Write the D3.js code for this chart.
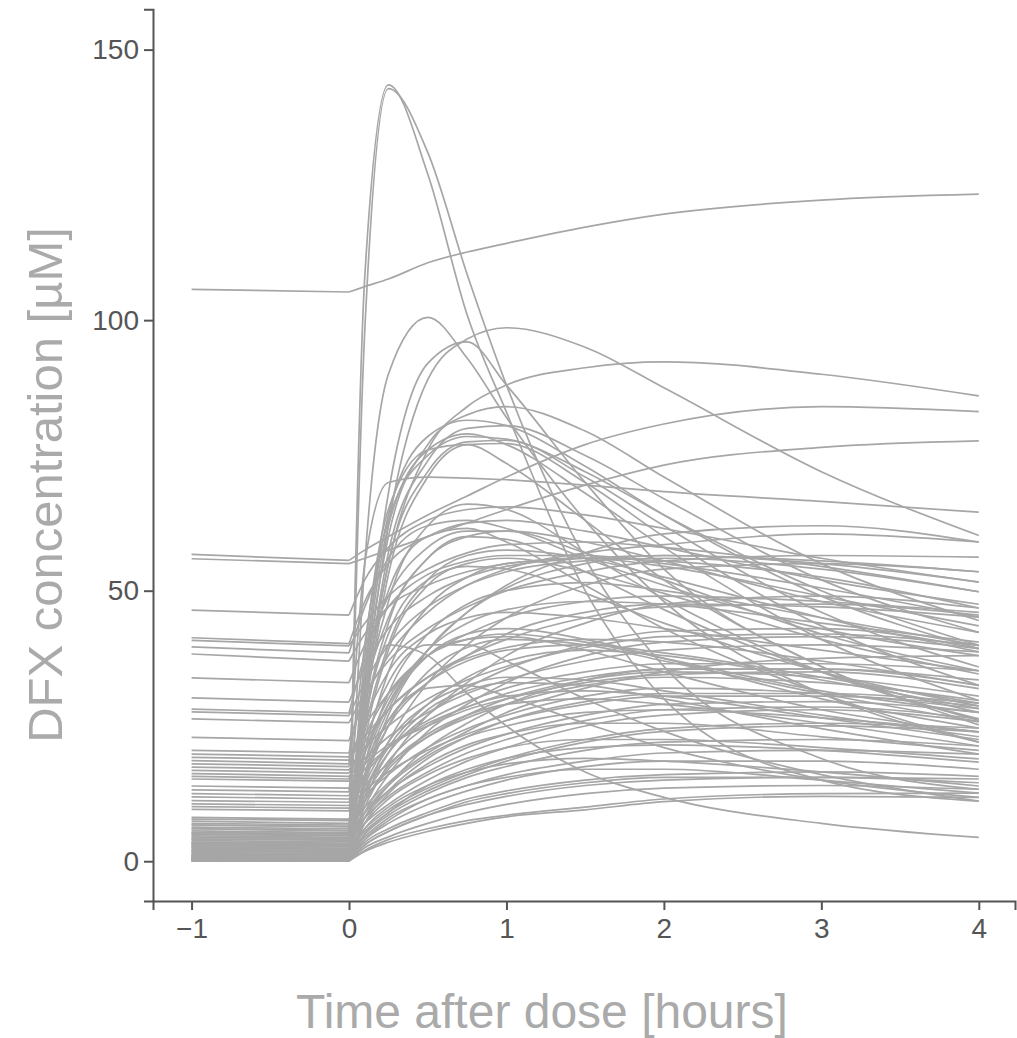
<!DOCTYPE html>
<html>
<head>
<meta charset="utf-8">
<script src="https://cdn.jsdelivr.net/npm/d3@7"></script>
<style>
  html, body { margin: 0; padding: 0; background: #ffffff; }
  svg { display: block; }
</style>
</head>
<body>
<svg id="chart" width="1017" height="1038"></svg>
<script>
// Sampling times (hours after dose); -1 is the pre-dose reading
const times = [-1, 0, 0.1, 0.25, 0.5, 0.75, 1, 1.5, 2, 3, 4];

// Axis ticks
const xTicks = [-1, 0, 1, 2, 3, 4];
const yTicks = [0, 50, 100, 150];

// DFX concentration [µM] per subject at each sampling time
const highResponders = [
  [105.7, 105.2, 106.2, 107.6, 110.6, 112.6, 114.2, 117.2, 119.6, 122.2, 123.3],
  [1.2, 0.9, 108, 143.5, 127, 101, 83, 50, 30, 15, 11.1],
  [0.5, 0.3, 98, 142.8, 131, 108.5, 88, 56, 36, 19, 13.3],
  [3.5, 3.2, 55, 90, 100.5, 93, 82, 63, 48, 31, 22.0],
  [1.0, 0.8, 30, 62, 89, 96.5, 98.6, 95, 87.5, 72, 60.2],
  [2.0, 1.8, 35, 68, 92, 96, 88, 70, 54, 36, 26.0],
  [6.0, 5.6, 30, 55, 76, 84, 88, 91.2, 92.3, 90, 86.0],
  [56.7, 55.6, 57.5, 60, 64, 67.5, 71, 77, 80.8, 84, 83.1],
  [55.9, 55.0, 56, 57.5, 60, 62.5, 65, 69.5, 73.2, 76.5, 77.7],
  [18.6, 18.0, 55, 70, 71, 70.8, 70.5, 69.5, 68.3, 66.5, 64.5]
];

const fastPeakers = [
  [4.1, 3.9, 32, 60, 77, 82.5, 84, 79.5, 71, 55, 44.5],
  [2.6, 2.4, 35, 64, 78.5, 81.5, 80.5, 73, 64, 49, 39.3],
  [7.4, 7.0, 30, 57, 74, 80, 80.5, 75, 67, 52, 42.3],
  [1.9, 1.7, 28, 55, 72, 77.5, 77.8, 71, 62, 46, 35.9],
  [5.0, 4.7, 27, 53, 71, 77, 77.2, 70, 60, 43.5, 32.5],
  [0.8, 0.6, 33, 62, 76, 79, 77, 68, 58, 41, 29.7],
  [13.2, 12.8, 40, 63, 75, 78.5, 78, 72, 64, 50, 39.9],
  [3.2, 3.0, 38, 65, 76, 77, 73.5, 63, 52, 36, 25.2]
];

const midResponders = [
  [46.4, 45.5, 52, 58, 63, 65, 65.5, 64, 61.5, 56, 51.6],
  [41.3, 40.2, 48, 55, 60, 62.5, 63, 61, 58, 52, 47.5],
  [40.8, 39.8, 44, 49, 54, 57, 58.5, 59, 58, 54.5, 49.8],
  [39.6, 38.5, 47, 56, 62, 63, 61.5, 56, 51, 43, 38.0],
  [38.3, 37.0, 42, 47, 51, 53.5, 55, 56, 55.5, 52.5, 46.8],
  [33.9, 33.0, 40, 47, 53, 55.5, 56.5, 56.5, 55, 50.5, 45.1],
  [30.2, 29.4, 36, 43, 49, 52.5, 54.5, 56, 56.5, 55.5, 53.5],
  [28.1, 27.4, 38, 49, 58, 61, 61, 57, 52, 42, 35.2],
  [27.6, 26.9, 33, 40, 47, 51, 53.5, 55.5, 56, 54, 49.8],
  [26.3, 25.6, 31, 37, 43, 47, 50, 53.5, 55.5, 56.5, 56.2],
  [22.9, 22.3, 30, 38, 46, 51, 54, 57, 58.5, 60.5, 59.0],
  [20.5, 20.0, 32, 45, 56, 60, 61, 59, 55.5, 48, 42.3],
  [12.5, 12.1, 20, 29, 39, 46, 51, 57, 60.5, 62, 59.0]
];

const lowBaseline = [
  [19.8, 19.3, 25, 31, 38, 42, 45, 48, 49, 48, 46.0],
  [19.2, 18.7, 23, 28, 34, 38, 41, 45, 47, 47.5, 45.5],
  [18.0, 17.5, 26, 35, 42, 45, 46, 45, 43, 39, 35.2],
  [17.4, 16.9, 21, 25, 30, 33.5, 36, 39.5, 41.5, 42, 39.9],
  [16.8, 16.3, 22, 28, 34, 37.5, 39.5, 41, 40.5, 37, 32.5],
  [16.2, 15.7, 19, 23, 27.5, 31, 33.5, 37, 39, 40, 38.7],
  [15.7, 15.2, 23, 31, 38, 41, 42, 40.5, 37.5, 31.5, 27.5],
  [15.2, 14.8, 18, 21.5, 25, 28, 30, 33, 34.5, 35, 31.9],
  [13.9, 13.5, 17, 21, 25.5, 28.5, 31, 34, 35.5, 35.5, 33.5],
  [11.9, 11.5, 16, 21, 26, 29.5, 32, 35, 36.5, 36.5, 35.2],
  [11.2, 10.9, 18, 26, 33, 37, 39, 40, 38.5, 34, 29.2],
  [10.6, 10.3, 14, 18, 23, 26.5, 29, 32.5, 34, 33, 29.7],
  [10.1, 9.8, 13, 16.5, 20.5, 23.5, 26, 29, 30.5, 30.5, 28.7],
  [9.6, 9.3, 20, 30, 38, 41, 41.5, 39, 35, 28, 23.9],
  [8.1, 7.8, 12, 16, 21, 24.5, 27, 30.5, 32, 31, 28.2]
];

const nearZeroBaseline = [
  [7.8, 7.5, 16, 25, 33, 38, 42, 46, 47.5, 47, 45.1],
  [7.0, 6.7, 18, 29, 39, 44, 46.5, 48, 47.5, 44, 40.5],
  [6.7, 6.4, 13, 20, 27, 32, 35.5, 40, 42.5, 43, 39.3],
  [6.3, 6.0, 10, 14.5, 20, 24, 27.5, 32, 35, 37.5, 38.0],
  [6.0, 5.7, 11, 17, 23, 27, 30, 33.5, 35, 34, 30.5],
  [5.6, 5.3, 14, 22, 29, 32.5, 34, 33.5, 31.5, 27, 23.0],
  [5.3, 5.0, 9, 13, 17.5, 21, 23.5, 27, 29, 29.5, 27.5],
  [4.7, 4.4, 8, 12, 16.5, 20, 22.5, 26, 28, 28.5, 26.3],
  [4.4, 4.2, 11, 17.5, 23.5, 27, 29, 30, 29, 25.5, 21.3],
  [3.8, 3.6, 7, 10.5, 15, 18.5, 21, 25, 27, 28, 25.8],
  [3.5, 3.3, 9, 14, 19.5, 23, 25, 27.5, 28, 26.5, 23.9],
  [2.9, 2.7, 6, 9.5, 13.5, 16.5, 19, 22.5, 24.5, 25.5, 24.6],
  [2.4, 2.2, 5.5, 9, 13, 16, 18.5, 22, 24, 25, 23.9],
  [2.1, 1.9, 7, 11.5, 16, 19, 21, 22.5, 22.5, 21, 18.9],
  [1.6, 1.4, 5, 8.5, 12.5, 15.5, 17.5, 20.5, 22, 22.5, 21.3],
  [1.4, 1.2, 4.5, 8, 11.5, 14, 16, 18.5, 20, 20.5, 19.8],
  [1.2, 1.0, 4, 7, 10.5, 13, 15, 17.5, 18.5, 18.5, 17.0],
  [1.0, 0.8, 6, 10, 14, 16.5, 18, 19, 18.5, 16.5, 13.9],
  [0.6, 0.5, 3.5, 6, 9, 11.5, 13, 15, 16, 16.5, 15.7],
  [0.4, 0.3, 3, 5.5, 8.5, 10.5, 12, 14, 15, 15.5, 15.2],
  [0.3, 0.2, 2.5, 4.5, 7, 9, 10.5, 12.5, 13.5, 14, 13.3],
  [0.2, 0.1, 2, 4, 6, 7.5, 8.5, 10, 11.5, 12.5, 12.6],
  [0.1, 0.05, 1.8, 3.5, 5.5, 7, 8.2, 9.5, 11, 12, 11.8],
  [0.0, 0.0, 4, 7.5, 11.5, 14, 15.5, 17, 17, 15, 12.6],
  [0.0, 0.0, 5, 9, 14, 17, 19, 21, 21.5, 20.5, 18.3],
  [5.0, 4.8, 20, 35, 47, 52.5, 55, 56, 54.5, 49, 43.5],
  [3.2, 3.0, 15, 27, 39, 46, 50.5, 55, 56.5, 55, 51.6],
  [2.6, 2.4, 12, 22, 33, 40, 45, 51, 54, 55, 53.5],
  [1.9, 1.7, 22, 39, 51, 55, 56, 53.5, 49.5, 41, 34.6],
  [0.8, 0.6, 25, 42, 52, 54.5, 54, 49.5, 44, 35, 28.7],
  [4.1, 3.9, 18, 31, 42, 47.5, 50, 51.5, 50, 45, 39.9],
  [3.0, 2.8, 10, 18, 27, 33, 38, 44, 47.5, 49, 46.8],
  [1.2, 1.0, 28, 48, 62, 66, 65, 57, 48.5, 35, 26.3],
  [0.5, 0.4, 30, 50, 60, 61.5, 59, 51, 43, 31, 22.0],
  [6.7, 6.4, 24, 40, 52, 56.5, 57.5, 56, 52.5, 45, 38.7],
  [2.2, 2.0, 9, 16, 24, 29, 33, 38, 40.5, 41.5, 39.3],
  [0.9, 0.7, 8, 14, 21, 25.5, 29, 33.5, 35.5, 35.5, 32.5],
  [0.3, 0.2, 11, 20, 28, 31.5, 33, 32.5, 30, 24.5, 19.8],
  [0.2, 0.1, 7, 12.5, 18, 21.5, 23.5, 25.5, 25.5, 23, 20.5],
  [4.4, 4.2, 13, 21, 29, 34, 37, 39, 38, 33.5, 28.2],
  [1.6, 1.4, 16, 28, 38, 42, 43, 41, 37.5, 30, 24.6],
  [3.5, 3.3, 26, 44, 56, 60, 59.5, 53.5, 46.5, 35, 27.5],
  [0.6, 0.4, 14, 25, 35, 39.5, 41, 40, 37, 31, 25.8],
  [2.9, 2.7, 8, 13, 19, 23, 26, 29.5, 31, 31, 29.2],
  [0.1, 0.05, 3, 5.5, 8.5, 11, 12.5, 14.5, 15.5, 15.5, 14.5],
  [5.3, 5.1, 12, 18.5, 25, 28.5, 30.5, 31.5, 30.5, 26.5, 22.5],
  [1.0, 0.8, 20, 33, 40, 40, 37, 30, 24, 16, 11.1],
  [0.4, 0.3, 15, 26, 32, 32.5, 30.5, 25.5, 21, 15, 11.8],
  [0.3, 0.2, 25, 40, 38, 31, 25, 16.5, 11.8, 7, 4.4]
];

const subjects = [].concat(highResponders, fastPeakers, midResponders, lowBaseline, nearZeroBaseline);

const svg = d3.select("#chart");
const lineColor = "#a6a6a6";
const axisColor = "#555555";

const x = d3.scaleLinear().domain([-1.245, 4.23]).range([153, 1015]);
const y = d3.scaleLinear().domain([-7.35, 157.45]).range([901, 9.3]);

// Curves: straight pre-dose segment, smooth post-dose profile
const preLine = d3.line().x(d => x(d[0])).y(d => y(d[1]));
const postLine = d3.line().x(d => x(d[0])).y(d => y(d[1])).curve(d3.curveMonotoneX);

const curves = svg.append("g").attr("fill", "none").attr("stroke", lineColor)
  .attr("stroke-width", 1.7).attr("stroke-linejoin", "round");

subjects.forEach(vals => {
  const pts = times.map((t, i) => [t, vals[i]]);
  curves.append("path").attr("d", preLine(pts.slice(0, 2)));
  curves.append("path").attr("d", postLine(pts.slice(1)));
});

// Axes
const xAxis = svg.append("g").attr("transform", `translate(0,${y(-7.35)})`)
  .call(d3.axisBottom(x).tickValues(xTicks).tickSize(9).tickPadding(6)
    .tickFormat(d => d < 0 ? "\u2212" + Math.abs(d) : String(d)));
const yAxis = svg.append("g").attr("transform", `translate(${x(-1.245)},0)`)
  .call(d3.axisLeft(y).tickValues(yTicks).tickSize(9).tickPadding(5));

[xAxis, yAxis].forEach(g => {
  g.select(".domain").attr("stroke", axisColor).attr("stroke-width", 2);
  g.selectAll(".tick line").attr("stroke", axisColor).attr("stroke-width", 2);
  g.selectAll(".tick text").attr("fill", axisColor)
    .attr("font-family", "'Liberation Sans', Arial, sans-serif").attr("font-size", 28);
});
xAxis.selectAll(".tick text").attr("dy", "0.78em");

// Axis titles
svg.append("text")
  .attr("x", 542).attr("y", 1028)
  .attr("text-anchor", "middle")
  .attr("font-family", "'Liberation Sans', Arial, sans-serif")
  .attr("font-size", 48).attr("fill", "#aaaaaa")
  .text("Time after dose [hours]");

svg.append("text")
  .attr("transform", "translate(62,485) rotate(-90)")
  .attr("text-anchor", "middle")
  .attr("font-family", "'Liberation Sans', Arial, sans-serif")
  .attr("font-size", 49).attr("fill", "#aaaaaa")
  .text("DFX concentration [\u00b5M]");
</script>
</body>
</html>
